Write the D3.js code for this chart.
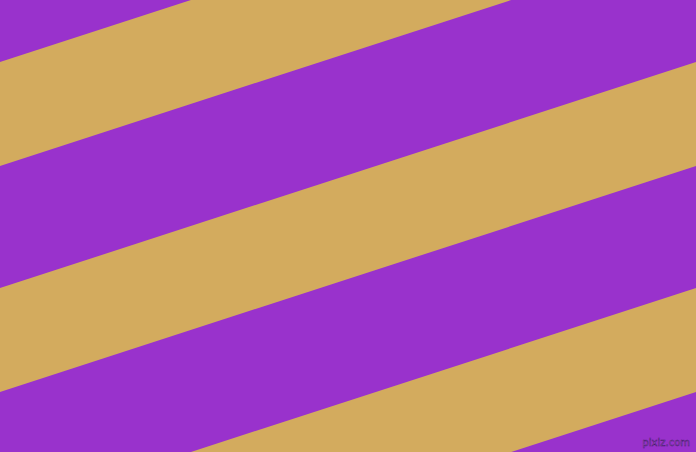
<!DOCTYPE html>
<html>
<head>
<meta charset="utf-8">
<script src="https://cdn.jsdelivr.net/npm/d3@7"></script>
<style>
  html, body { margin: 0; padding: 0; background: #9932CC; }
  svg { display: block; }
</style>
</head>
<body>
<div id="chart"></div>
<script>
// Stripe data: left-edge intercepts of each tan band (in pattern units)
const bandNames = ['band0', 'band1', 'band2', 'band3'];
const bandFrom = [-164, 62, 288, 514];
const bandTo = [-60, 166, 392, 618];
const bandRise = 226; // drop across the full width
const colors = ['#9932CC', '#D3AB5E'];

const width = 696;
const height = 452;

const svg = d3.select('#chart')
    .append('svg')
    .attr('width', width)
    .attr('height', height);

// Scales
const x = d3.scaleLinear().domain([0, 1]).range([0, width]);
const y = d3.scaleLinear().domain([0, height]).range([0, height]);

// Background
svg.append('rect')
    .attr('width', width)
    .attr('height', height)
    .attr('fill', colors[0]);

const line = d3.line()
    .x(d => x(d[0]))
    .y(d => y(d[1]));

const bands = bandNames.map((name, i) => ({
    name: name,
    pts: [
        [0, bandFrom[i]],
        [1, bandFrom[i] - bandRise],
        [1, bandTo[i] - bandRise],
        [0, bandTo[i]]
    ]
}));

svg.selectAll('path.band')
    .data(bands)
    .enter()
    .append('path')
    .attr('class', 'band')
    .attr('d', d => line(d.pts) + 'Z')
    .attr('fill', colors[1]);

// Watermark
svg.append('text')
    .attr('x', width - 6)
    .attr('y', height - 6)
    .attr('text-anchor', 'end')
    .style('font-family', 'DejaVu Sans, sans-serif')
    .style('font-size', '10px')
    .style('fill', '#b06ad8')
    .style('stroke', '#4a1670')
    .style('stroke-width', '0.5px')
    .text('pixiz.com');
</script>
</body>
</html>
